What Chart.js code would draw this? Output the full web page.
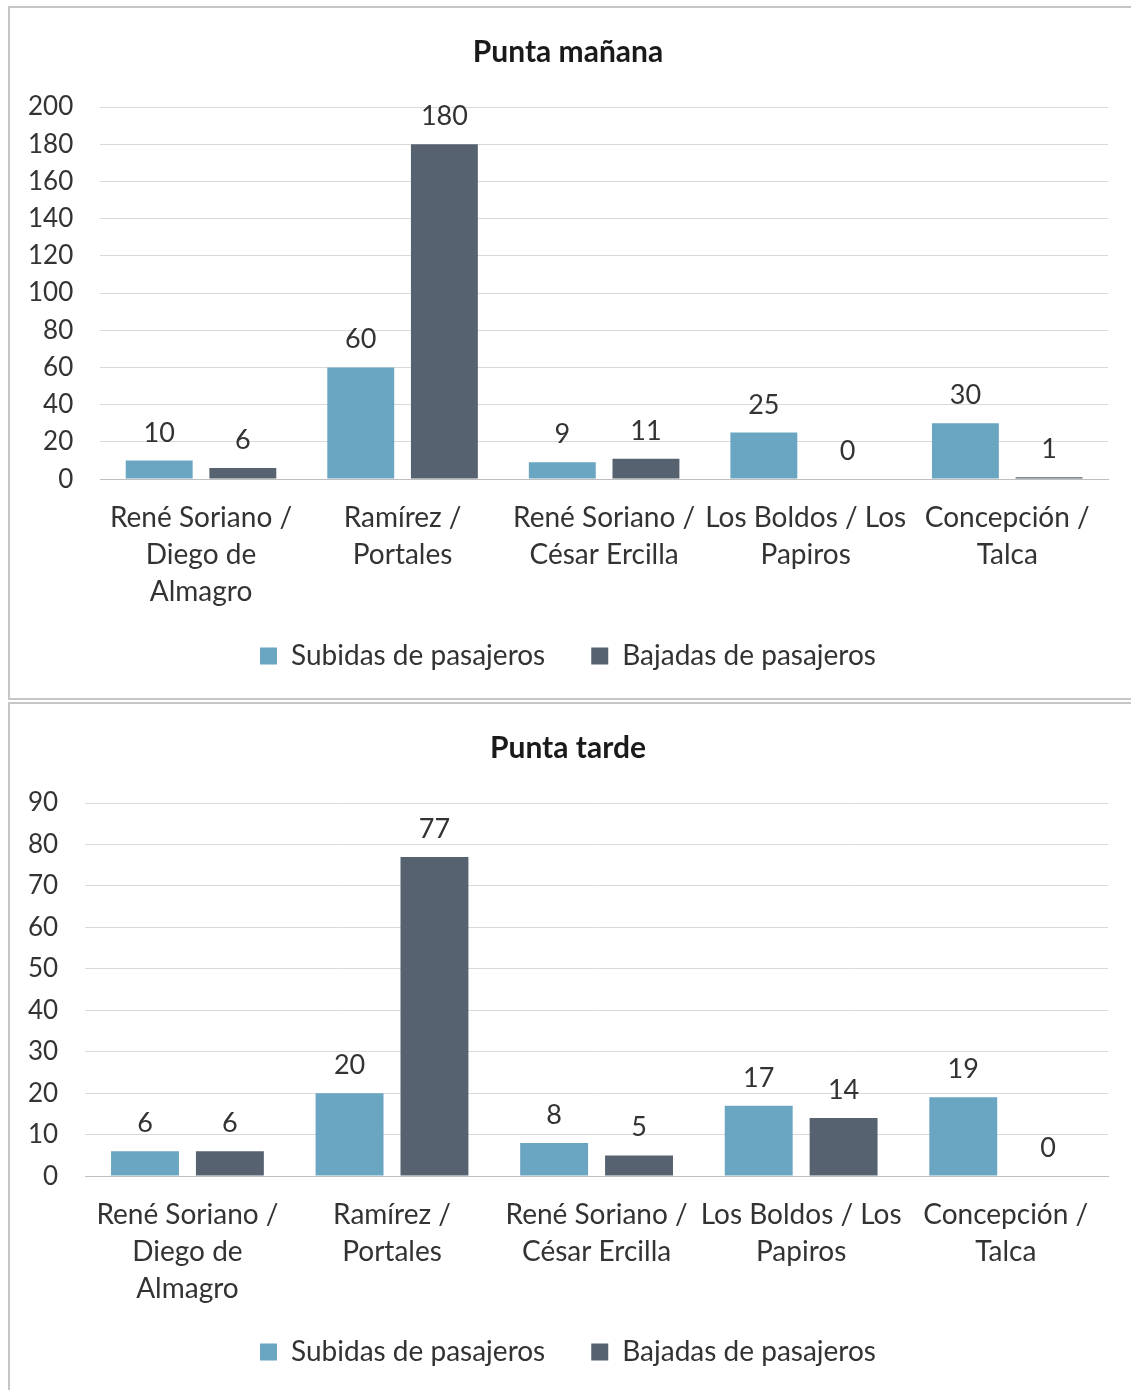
<!DOCTYPE html>
<html>
<head>
<meta charset="utf-8">
<script src="https://cdn.jsdelivr.net/npm/chart.js@4.4.1/dist/chart.umd.min.js"></script>
<style>
  html, body { margin: 0; padding: 0; background: #fff; overflow: hidden; }
  .panel { position: absolute; left: 8px; border: 2px solid #c6c6c6; background: #fff; }
  #top { top: 6px; width: 1121px; height: 690px; }
  #bottom { top: 702px; width: 1121px; height: 690px; }
  .panel canvas { display: block; }
</style>
</head>
<body>
<div class="panel" id="top"><canvas id="morningChart"></canvas></div>
<div class="panel" id="bottom"><canvas id="eveningChart"></canvas></div>

<script>
// Data
const stops = [
  ['René Soriano /', 'Diego de', 'Almagro'],
  ['Ramírez /', 'Portales'],
  ['René Soriano /', 'César Ercilla'],
  ['Los Boldos / Los', 'Papiros'],
  ['Concepción /', 'Talca']
];
const seriesNames = ['Subidas de pasajeros', 'Bajadas de pasajeros'];

const morningUp = [10, 60, 9, 25, 30];
const morningDown = [6, 180, 11, 0, 1];
const morningTicks = { max: 200, step: 20 };

const eveningUp = [6, 20, 8, 17, 19];
const eveningDown = [6, 77, 5, 14, 0];
const eveningTicks = { max: 90, step: 10 };

const FONT = 'Lato';
const TEXT = '#333333';

// draws the value above each bar
const valueLabels = {
  id: 'valueLabels',
  afterDatasetsDraw(chart) {
    const ctx = chart.ctx;
    ctx.save();
    ctx.font = '27px ' + FONT;
    ctx.fillStyle = TEXT;
    ctx.textAlign = 'center';
    ctx.textBaseline = 'alphabetic';
    chart.data.datasets.forEach((ds, i) => {
      chart.getDatasetMeta(i).data.forEach((bar, j) => {
        ctx.fillText(ds.data[j], bar.x, bar.y - 19);
      });
    });
    ctx.restore();
  }
};

function makeChart(id, title, up, down, ticks, squeeze) {
  const ctx = document.getElementById(id).getContext('2d');
  return new Chart(ctx, {
    type: 'bar',
    data: {
      labels: stops,
      datasets: [{
        label: seriesNames[0],
        data: up,
        backgroundColor: '#6aa5c1'
      }, {
        label: seriesNames[1],
        data: down,
        backgroundColor: '#576270'
      }]
    },
    options: {
      responsive: true,
      maintainAspectRatio: false,
      animation: false,
      categoryPercentage: 0.83,
      barPercentage: 0.8,
      layout: { padding: { left: 18, right: 23, top: 26, bottom: 18 } },
      plugins: {
        title: {
          display: true,
          text: title,
          color: '#1a1a1a',
          font: { family: FONT, size: 30, weight: 'bold' },
          padding: { top: 0, bottom: 37 }
        },
        legend: {
          position: 'bottom',
          labels: {
            color: TEXT,
            font: { family: FONT, size: 28 },
            boxWidth: 17,
            boxHeight: 17,
            padding: 46
          }
        },
        tooltip: { enabled: false }
      },
      scales: {
        x: {
          grid: { display: false, drawTicks: false },
          border: { color: '#bfbfbf', width: 1 },
          ticks: {
            color: TEXT,
            font: { family: FONT, size: 28, lineHeight: 1.32 },
            padding: 20,
            maxRotation: 0,
            autoSkip: false
          },
          // labels may run into the legend's spare space, so don't clip them
          afterFit(scale) {
            scale.height -= squeeze;
            scale._computeLabelArea = () => undefined;
          }
        },
        y: {
          min: 0,
          max: ticks.max,
          grid: { color: '#d9d9d9', drawTicks: false },
          border: { display: false },
          ticks: {
            stepSize: ticks.step,
            autoSkip: false,
            color: TEXT,
            font: { family: FONT, size: 26 },
            padding: 27
          },
          afterFit(scale) {
            scale.width -= 27;
          }
        }
      }
    },
    plugins: [valueLabels]
  });
}

makeChart('morningChart', 'Punta mañana', morningUp, morningDown, morningTicks, 34);
makeChart('eveningChart', 'Punta tarde', eveningUp, eveningDown, eveningTicks, 35);
</script>
</body>
</html>
